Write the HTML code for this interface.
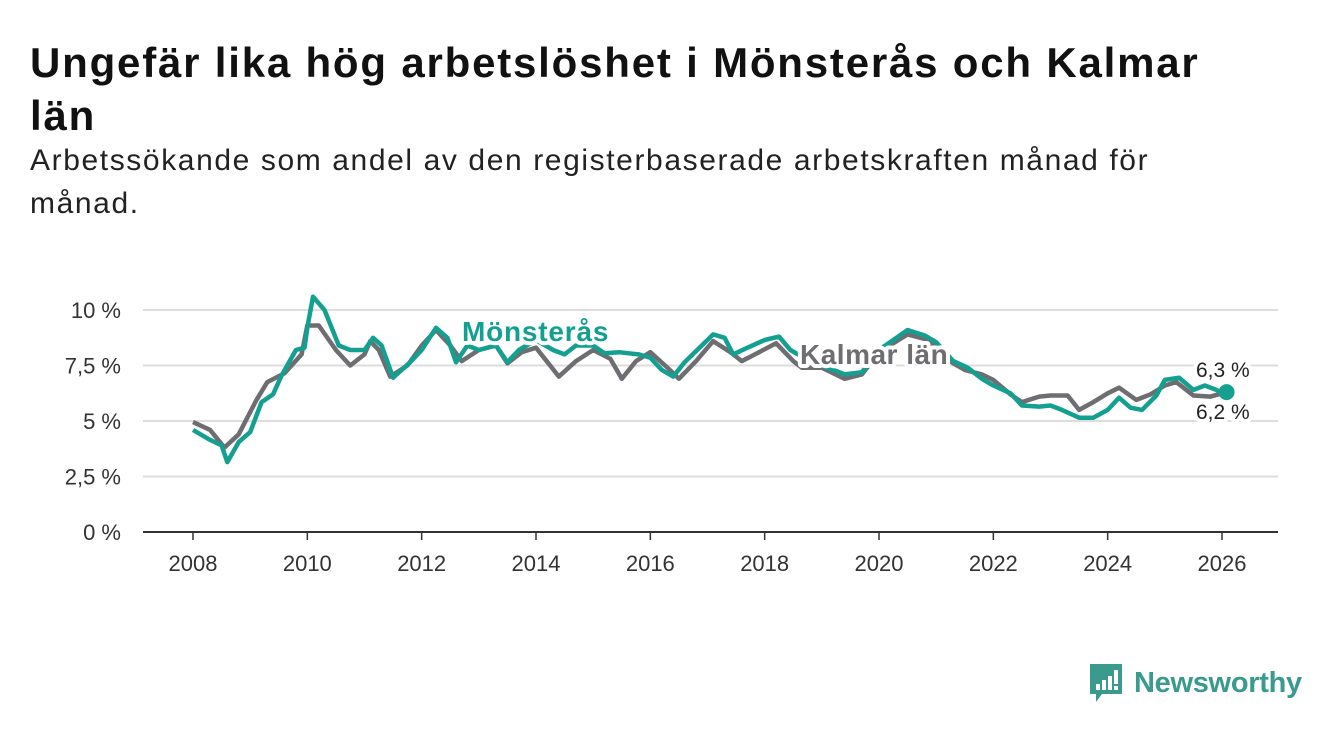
<!DOCTYPE html>
<html><head><meta charset="utf-8">
<style>
html,body{margin:0;padding:0;background:#fff;width:1340px;height:734px;overflow:hidden;font-family:"Liberation Sans","DejaVu Sans",sans-serif;}
#title{position:absolute;left:30px;top:36px;width:1300px;font-size:42px;font-weight:bold;line-height:53px;color:#111;margin:0;letter-spacing:1.8px;white-space:nowrap;}
#subtitle{position:absolute;left:30px;top:139px;width:1300px;font-size:30px;line-height:43px;color:#222;margin:0;letter-spacing:1.6px;white-space:nowrap;}
#chart{position:absolute;left:0;top:0;}
#logo{position:absolute;left:1088px;top:662px;display:flex;align-items:center;}
#logo span{font-size:29px;color:#3a9a8e;margin-left:10px;font-weight:bold;letter-spacing:-0.3px;}
</style></head><body>
<h1 id="title">Ungefär lika hög arbetslöshet i Mönsterås och Kalmar<br>län</h1>
<p id="subtitle">Arbetssökande som andel av den registerbaserade arbetskraften månad för<br>månad.</p>
<svg id="chart" width="1340" height="734"></svg>
<div id="logo">
<svg width="36" height="42" viewBox="0 0 36 42"><path d="M2 2h32v30H14l-6 8v-8H2z" fill="#3a9a8e"/><rect x="8" y="22" width="4" height="6" fill="#fff"/><rect x="14" y="18" width="4" height="10" fill="#fff"/><rect x="20" y="14" width="4" height="14" fill="#fff"/><rect x="26" y="8" width="4" height="14" fill="#fff"/><rect x="26" y="24" width="4" height="4" fill="#fff"/></svg>
<span>Newsworthy</span></div>
<script>
const yearsK=[2008.0,2008.3,2008.55,2008.8,2009.1,2009.3,2009.6,2009.9,2010.0,2010.2,2010.5,2010.75,2011.0,2011.1,2011.25,2011.45,2011.75,2012.0,2012.25,2012.5,2012.7,2013.0,2013.3,2013.5,2013.75,2014.0,2014.4,2014.7,2015.0,2015.3,2015.5,2015.75,2016.0,2016.3,2016.5,2016.8,2017.1,2017.4,2017.6,2017.9,2018.2,2018.5,2018.65,2019.0,2019.4,2019.7,2020.0,2020.5,2020.8,2021.0,2021.3,2021.5,2021.8,2022.0,2022.3,2022.5,2022.8,2023.0,2023.3,2023.5,2023.75,2024.0,2024.2,2024.5,2024.75,2025.0,2025.2,2025.5,2025.8,2026.08];
const kalmar=[4.95,4.6,3.8,4.4,5.9,6.75,7.15,8.0,9.3,9.3,8.2,7.5,8.0,8.6,8.2,7.0,7.5,8.4,9.1,8.4,7.7,8.2,8.4,7.6,8.1,8.3,7.0,7.7,8.2,7.8,6.9,7.7,8.1,7.4,6.9,7.7,8.6,8.1,7.7,8.1,8.5,7.7,7.4,7.4,6.9,7.1,8.1,8.9,8.7,8.3,7.6,7.3,7.1,6.85,6.2,5.85,6.1,6.15,6.15,5.5,5.85,6.25,6.5,5.95,6.2,6.6,6.75,6.15,6.1,6.3];
const yearsM=[2008.0,2008.3,2008.5,2008.6,2008.8,2009.0,2009.2,2009.4,2009.55,2009.8,2009.95,2010.0,2010.1,2010.3,2010.55,2010.75,2011.0,2011.15,2011.3,2011.5,2011.8,2012.0,2012.25,2012.45,2012.6,2012.8,2013.0,2013.3,2013.5,2013.7,2014.0,2014.3,2014.5,2014.7,2015.0,2015.2,2015.45,2015.8,2016.0,2016.2,2016.4,2016.6,2016.9,2017.1,2017.3,2017.45,2017.7,2018.0,2018.25,2018.45,2018.65,2019.0,2019.4,2019.7,2020.0,2020.5,2020.8,2021.0,2021.3,2021.55,2021.8,2022.0,2022.3,2022.5,2022.8,2023.0,2023.2,2023.5,2023.75,2024.0,2024.2,2024.4,2024.6,2024.85,2025.0,2025.25,2025.5,2025.7,2025.9,2026.08];
const monsteras=[4.6,4.15,3.9,3.15,4.05,4.5,5.85,6.2,7.05,8.2,8.3,9.2,10.6,10.0,8.4,8.2,8.2,8.75,8.4,6.95,7.65,8.2,9.2,8.75,7.65,8.4,8.2,8.4,7.65,8.2,8.65,8.2,8.0,8.4,8.4,8.05,8.1,8.0,7.85,7.3,7.0,7.65,8.4,8.9,8.75,8.0,8.3,8.65,8.8,8.2,7.9,7.5,7.1,7.2,8.2,9.1,8.85,8.55,7.7,7.4,6.9,6.6,6.25,5.7,5.65,5.7,5.5,5.15,5.15,5.5,6.05,5.6,5.5,6.15,6.85,6.95,6.4,6.6,6.4,6.2];
const yTicks=[0,2.5,5,7.5,10];
const yTickLabels=["0 %","2,5 %","5 %","7,5 %","10 %"];
const xTicks=[2008,2010,2012,2014,2016,2018,2020,2022,2024,2026];

const svg=document.getElementById('chart');
const NS='http://www.w3.org/2000/svg';
const X=v=>193+(v-2008)*(1222-193)/18;
const Y=v=>532-v*22.2;
function mk(t,a){const e=document.createElementNS(NS,t);for(const k in a)e.setAttribute(k,a[k]);svg.appendChild(e);return e;}
yTicks.forEach((t,i)=>{
  const g=mk('line',{x1:143,x2:1278,y1:Y(t),y2:Y(t),stroke:t===0?'#333':'#ddd','stroke-width':2});
  
  
  const l=mk('text',{x:121,y:Y(t)+8,'text-anchor':'end','font-size':22,fill:'#333','font-family':'Liberation Sans, sans-serif'});
  l.textContent=yTickLabels[i];
  
  
});
xTicks.forEach(t=>{
  const tk=mk('line',{x1:X(t),x2:X(t),y1:532,y2:540,stroke:'#333','stroke-width':1.5});
  
  
  const l=mk('text',{x:X(t),y:571,'text-anchor':'middle','font-size':22,fill:'#333','font-family':'Liberation Sans, sans-serif'});
  l.textContent=t;
  
  
});
function path(xs,ys){return xs.map((x,i)=>(i?'L':'M')+X(x).toFixed(1)+','+Y(ys[i]).toFixed(1)).join('');}
const pk=mk('path',{d:path(yearsK,kalmar),fill:'none',stroke:'#6e6e72','stroke-width':4.5,'stroke-linejoin':'round'});


const pm=mk('path',{d:path(yearsM,monsteras),fill:'none',stroke:'#13a091','stroke-width':4.5,'stroke-linejoin':'round'});


const dot=mk('circle',{cx:X(yearsM[yearsM.length-1]),cy:Y(kalmar[kalmar.length-1]),r:8,fill:'#13a091'});


function lab(txt,x,y,col,size,bold,name,ls){
  const t=mk('text',{x:x,y:y,'font-size':size,'font-weight':bold?'bold':'normal',fill:col,stroke:'#fff','stroke-width':8,'paint-order':'stroke','stroke-linejoin':'round','font-family':'Liberation Sans, sans-serif','letter-spacing':ls||0});
  t.textContent=txt;
  
  
}
lab('Mönsterås',462,341,'#13a091',28,true,'monsteras-label',0.8);
lab('Kalmar län',800,364,'#6e6e72',28,true,'kalmar-lan-label',0.5);
lab('6,3 %',1196,377,'#222',21,false,'end-value-kalmar');
lab('6,2 %',1196,419,'#222',21,false,'end-value-monsteras');
</script>
</body></html>
